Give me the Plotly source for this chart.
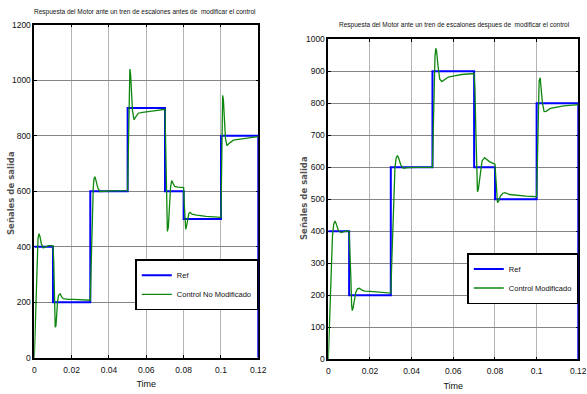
import plotly.graph_objects as go

# Reference step train: level held from each switching time until the next one
ref_times = [0, 0.01, 0.03, 0.05, 0.07, 0.08, 0.10, 0.12]
ref_levels = [400, 200, 600, 900, 600, 500, 800, 0]

# Motor speed response with the original controller
t_orig = [0, 0.0005, 0.001, 0.0015, 0.002, 0.0025, 0.003, 0.0038, 0.0048, 0.006, 0.0075, 0.009, 0.01,
          0.0104, 0.0108, 0.0112, 0.0116, 0.012, 0.0125, 0.013, 0.0138, 0.0146, 0.0155, 0.0165, 0.018,
          0.021, 0.025, 0.03,
          0.0304, 0.0308, 0.0312, 0.0316, 0.032, 0.0325, 0.033, 0.034, 0.0352, 0.037, 0.042, 0.05,
          0.0504, 0.0508, 0.0512, 0.0516, 0.052, 0.0526, 0.0534, 0.0545, 0.0557, 0.058, 0.061, 0.065, 0.07,
          0.0704, 0.0708, 0.0713, 0.0718, 0.0724, 0.073, 0.0736, 0.0743, 0.0752, 0.077, 0.08,
          0.0803, 0.0807, 0.0811, 0.0816, 0.0822, 0.0828, 0.0834, 0.0845, 0.087, 0.092, 0.1,
          0.1003, 0.1006, 0.1009, 0.1013, 0.1018, 0.1024, 0.1032, 0.104, 0.1066, 0.112, 0.12]
y_orig = [0, 120, 260, 370, 430, 447, 438, 410, 396, 399, 404, 404, 403,
          350, 220, 110, 115, 160, 205, 225, 230, 220, 213, 212, 210,
          210, 209, 207,
          320, 460, 560, 615, 645, 652, 640, 612, 599, 600, 601, 602,
          760, 950, 1040, 1020, 960, 890, 858, 868, 881, 884, 886, 890, 895,
          780, 590, 455, 470, 550, 615, 638, 628, 617, 615, 613,
          560, 490, 463, 475, 505, 520, 524, 517, 514, 509, 506,
          650, 850, 945, 930, 860, 790, 764, 770, 784, 790, 797]

# Motor speed response with the modified controller
t_mod = [0, 0.0005, 0.001, 0.0015, 0.002, 0.0026, 0.0032, 0.0038, 0.0047, 0.006, 0.0075, 0.009, 0.01,
         0.0104, 0.0108, 0.0112, 0.0115, 0.0119, 0.0125, 0.0132, 0.014, 0.015, 0.0162, 0.0175, 0.02,
         0.024, 0.03,
         0.0304, 0.0308, 0.0312, 0.0316, 0.032, 0.0326, 0.0332, 0.0338, 0.0348, 0.036, 0.038, 0.042, 0.05,
         0.0504, 0.0508, 0.0512, 0.0516, 0.052, 0.0526, 0.0535, 0.0545, 0.0558, 0.0576, 0.0605, 0.064, 0.07,
         0.0704, 0.0708, 0.0712, 0.0716, 0.072, 0.0728, 0.0738, 0.075, 0.0762, 0.0775, 0.08,
         0.0803, 0.0807, 0.0812, 0.0818, 0.0826, 0.0838, 0.0848, 0.087, 0.0892, 0.095, 0.1,
         0.1003, 0.1007, 0.1012, 0.1017, 0.1022, 0.1028, 0.1036, 0.1045, 0.1066, 0.113, 0.12]
y_mod = [0, 100, 220, 320, 385, 422, 432, 424, 405, 396, 399, 401, 400,
         350, 260, 170, 152, 160, 185, 210, 220, 222, 216, 213, 212,
         210, 207,
         290, 390, 480, 550, 600, 630, 637, 628, 607, 597, 599, 600, 600,
         720, 860, 945, 972, 962, 920, 875, 868, 875, 882, 886, 890, 893,
         840, 720, 590, 524, 530, 580, 620, 630, 624, 617, 610,
         570, 515, 490, 494, 510, 519, 521, 515, 513, 510, 508,
         630, 780, 870, 880, 850, 800, 774, 775, 784, 792, 796]

x_ticks = [0, 0.02, 0.04, 0.06, 0.08, 0.1, 0.12]
x_tick_text = ["0", "0.02", "0.04", "0.06", "0.08", "0.1", "0.12"]
y_ticks_left = [0, 200, 400, 600, 800, 1000, 1200]
y_ticks_right = [0, 100, 200, 300, 400, 500, 600, 700, 800, 900, 1000]

title_left = "Respuesta del Motor ante un tren de escalones antes de  modificar el control"
title_right = "Respuesta del Motor ante un tren de escalones despues de  modificar el control"
y_label = "Señales de salida"

NARROW = "Liberation Sans Narrow, Liberation Sans, Arial, sans-serif"
BLUE = "#0000ff"
GREEN = "#0e870e"

W, H = 587, 394

# plot-area edges in pixels (left, right, top, bottom)
LEFT_BOX = (34.3, 258.3, 24.7, 357.7)
RIGHT_BOX = (328.3, 578.3, 39.3, 359.3)


def px_x(p):
    return p / W


def px_y(p):
    return 1 - p / H


fig = go.Figure()

fig.add_trace(go.Scatter(x=ref_times, y=ref_levels, mode="lines", line=dict(color=BLUE, width=2, shape="hv"),
                         name="Ref", xaxis="x", yaxis="y", legend="legend"))
fig.add_trace(go.Scatter(x=t_orig, y=y_orig, mode="lines", line=dict(color=GREEN, width=1.3),
                         name="Control No Modificado", xaxis="x", yaxis="y", legend="legend"))
fig.add_trace(go.Scatter(x=ref_times, y=ref_levels, mode="lines", line=dict(color=BLUE, width=2, shape="hv"),
                         name="Ref", xaxis="x2", yaxis="y2", legend="legend2"))
fig.add_trace(go.Scatter(x=t_mod, y=y_mod, mode="lines", line=dict(color=GREEN, width=1.3),
                         name="Control Modificado", xaxis="x2", yaxis="y2", legend="legend2"))

tick_font = dict(family=NARROW, size=8.5, color="#111")


def xaxis_cfg(box, anchor):
    return dict(domain=[px_x(box[0]), px_x(box[1])], anchor=anchor, range=[0, 0.12],
                tickvals=x_ticks, ticktext=x_tick_text,
                showgrid=True, gridcolor="#b4b4b4", gridwidth=1, zeroline=False,
                showline=True, linecolor="black", linewidth=1.5, mirror="ticks",
                ticks="inside", ticklen=3, tickcolor="black", tickfont=tick_font,
                ticklabelstandoff=3, ticklabeloverflow="allow",
                layer="below traces", automargin=False,
                title=dict(text="Time", font=dict(family=NARROW, size=9, color="#111"), standoff=7))


def yaxis_cfg(box, anchor, rng, ticks):
    return dict(domain=[px_y(box[3]), px_y(box[2])], anchor=anchor, range=rng, tickvals=ticks,
                showgrid=True, gridcolor="#858585", gridwidth=1.4, zeroline=False,
                showline=True, linecolor="black", linewidth=1.5, mirror="ticks",
                ticks="inside", ticklen=3, tickcolor="black", tickfont=tick_font,
                ticklabeloverflow="allow",
                layer="below traces", automargin=False)


legend_common = dict(bgcolor="white", bordercolor="black", borderwidth=1.5,
                     font=dict(family=NARROW, size=7.5, color="#111"),
                     itemwidth=30, tracegroupgap=0, xanchor="right", yanchor="top")

ylabel_font = dict(family="DejaVu Sans", size=8.5, color="#555", weight="bold")
title_font = dict(family=NARROW, size=6.5, color="#111")

fig.update_layout(
    width=W, height=H,
    margin=dict(l=0, r=0, t=0, b=0),
    paper_bgcolor="white", plot_bgcolor="white",
    xaxis=xaxis_cfg(LEFT_BOX, "y"),
    yaxis=yaxis_cfg(LEFT_BOX, "x", [0, 1200], y_ticks_left),
    xaxis2=xaxis_cfg(RIGHT_BOX, "y2"),
    yaxis2=yaxis_cfg(RIGHT_BOX, "x2", [0, 1000], y_ticks_right),
    legend=dict(x=px_x(LEFT_BOX[1]), y=px_y(259.3), **legend_common),
    legend2=dict(x=px_x(RIGHT_BOX[1]), y=px_y(253), **legend_common),
    annotations=[
        dict(text=title_left, xref="paper", yref="paper", x=px_x(145), y=px_y(12), showarrow=False,
             xanchor="center", yanchor="middle", font=title_font),
        dict(text=title_right, xref="paper", yref="paper", x=px_x(454), y=px_y(25), showarrow=False,
             xanchor="center", yanchor="middle", font=title_font),
        dict(text=y_label, xref="paper", yref="paper", x=px_x(11), y=px_y(193), showarrow=False,
             textangle=-90, xanchor="center", yanchor="middle", font=ylabel_font),
        dict(text=y_label, xref="paper", yref="paper", x=px_x(304), y=px_y(198), showarrow=False,
             textangle=-90, xanchor="center", yanchor="middle", font=ylabel_font),
    ],
)

fig.write_html("out.html")
